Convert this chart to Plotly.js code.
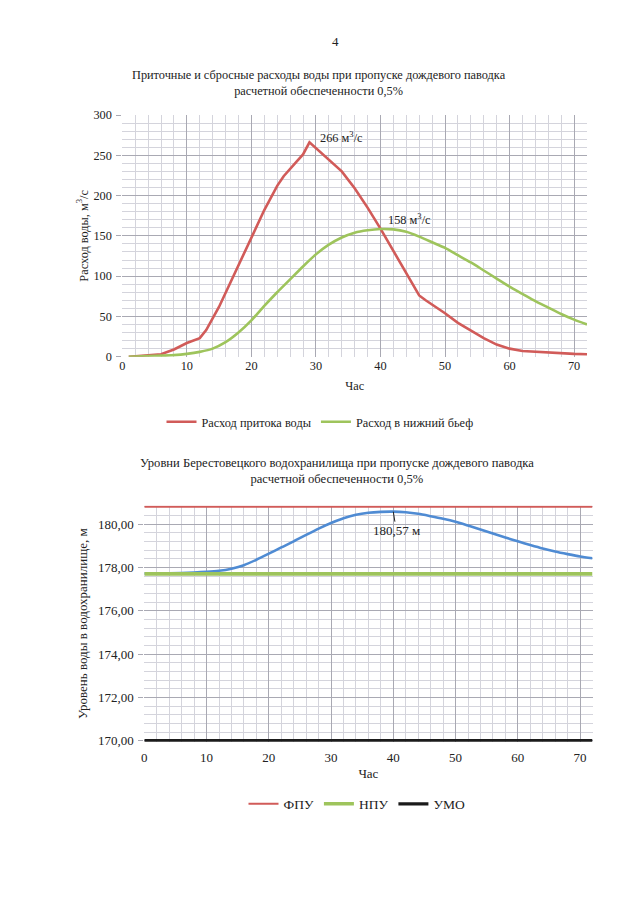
<!DOCTYPE html>
<html><head><meta charset="utf-8">
<script src="https://cdn.plot.ly/plotly-3.0.1.min.js"></script>
<style>html,body{margin:0;padding:0;background:#fff;} #chart{width:640px;height:920px;}</style>
</head><body><div id="chart"></div>
<script>
// ---- Chart 1: discharges (m3/s) ----
const hoursInflow = [1, 3, 5, 6, 8, 10, 12, 13, 15, 17, 20, 22, 24, 25, 27, 28, 29, 30, 32, 34, 36, 38, 40, 42, 44, 45, 46, 47, 48, 50, 52, 54, 56, 58, 60, 62, 64, 66, 68, 70, 72];
const inflow =      [0, 1, 2, 3, 9, 17, 23, 33, 62, 96, 149, 182, 212, 224, 242, 251, 266, 259, 245, 230, 209, 185, 159, 131, 103, 89, 76, 70, 65, 54, 42, 32, 23, 15, 10, 7, 6, 5, 4, 3.5, 3];
const hoursOutflow = [1, 5, 8, 10, 12, 14, 16, 18, 20, 22, 24, 26, 28, 30, 32, 34, 36, 38, 40, 42, 44, 46, 48, 50, 52, 54, 56, 58, 60, 62, 64, 66, 68, 70, 72];
const outflow =      [0, 1, 2, 3.5, 6, 10, 18, 30, 45, 63, 80, 96, 112, 127, 139, 148, 154, 157, 158.5, 158, 155, 149, 142, 135, 126, 117, 107, 97, 87, 78, 69, 61, 53, 46, 40];
const inflowName = "Расход притока воды";
const outflowName = "Расход в нижний бьеф";
const peakInflowLabel = "266 м<sup>3</sup>/с";
const peakOutflowLabel = "158 м<sup>3</sup>/с";

// ---- Chart 2: reservoir levels (m) ----
const hoursLevel = [0, 4, 8, 10, 12, 14, 16, 18, 20, 22, 24, 26, 28, 30, 32, 34, 36, 38, 40, 42, 44, 46, 48, 50, 52, 54, 56, 58, 60, 62, 64, 66, 68, 70, 72];
const level =      [177.72, 177.73, 177.76, 177.79, 177.84, 177.94, 178.1, 178.35, 178.63, 178.92, 179.2, 179.5, 179.79, 180.05, 180.27, 180.43, 180.52, 180.56, 180.57, 180.54, 180.47, 180.36, 180.24, 180.1, 179.93, 179.75, 179.56, 179.38, 179.2, 179.03, 178.87, 178.73, 178.61, 178.5, 178.42];
const hoursConst = [0, 72];
const fpuLevel = [180.8, 180.8];
const npuLevel = [177.7, 177.7];
const umoLevel = [170.0, 170.0];
const levelNames = ["ФПУ", "НПУ", "УМО"];
const peakLevelLabel = "180,57 м";

const title1 = "Приточные и сбросные расходы воды при пропуске дождевого паводка<br>расчетной обеспеченности 0,5%";
const title2 = "Уровни Берестовецкого водохранилища при пропуске дождевого паводка<br>расчетной обеспеченности 0,5%";
const yTitle1 = "Расход воды, м<sup>3</sup>/с";
const yTitle2 = "Уровень воды в водохранилище, м";
const xTitle = "Час";
const pageNumber = "4";

const FONT = "'Liberation Serif', 'Times New Roman', serif";
const TXT = "#222";
const RED = "#d15b59", GREEN = "#9ec45c", BLUE = "#4f8bd3", BLACK = "#1b1b1b";
const MAJ = "#a9a9b3", MIN = "#d4d4dc";
const F1 = 12.3, F2 = 13;

const traces = [
  {x: hoursInflow, y: inflow, name: inflowName, type: "scatter", mode: "lines",
   line: {color: RED, width: 2.6}, xaxis: "x", yaxis: "y", legend: "legend"},
  {x: hoursOutflow, y: outflow, name: outflowName, type: "scatter", mode: "lines",
   line: {color: GREEN, width: 2.6, shape: "spline", smoothing: 0.6}, xaxis: "x", yaxis: "y", legend: "legend"},
  {x: hoursLevel, y: level, name: "Уровень", type: "scatter", mode: "lines", showlegend: false,
   line: {color: BLUE, width: 2.6, shape: "spline", smoothing: 0.7}, xaxis: "x2", yaxis: "y2"},
  {x: hoursConst, y: fpuLevel, name: levelNames[0], type: "scatter", mode: "lines",
   line: {color: RED, width: 2}, xaxis: "x2", yaxis: "y2", legend: "legend2"},
  {x: hoursConst, y: npuLevel, name: levelNames[1], type: "scatter", mode: "lines",
   line: {color: GREEN, width: 3.6}, xaxis: "x2", yaxis: "y2", legend: "legend2"},
  {x: hoursConst, y: umoLevel, name: levelNames[2], type: "scatter", mode: "lines",
   line: {color: BLACK, width: 3.2}, xaxis: "x2", yaxis: "y2", legend: "legend2"}
];

const W = 640, H = 920;
const px = v => v / W, py = v => 1 - v / H;

function axisBase(size, extra) {
  return Object.assign({
    showgrid: true, gridcolor: MAJ, gridwidth: 1, zeroline: false, showline: false,
    tickfont: {family: FONT, size: size, color: TXT}, fixedrange: true
  }, extra);
}

const layout = {
  width: W, height: H, autosize: false,
  margin: {l: 0, r: 0, t: 0, b: 0},
  paper_bgcolor: "#fff", plot_bgcolor: "#fff",
  separators: ", ",
  font: {family: FONT, size: F1, color: TXT},
  xaxis: axisBase(F1, {domain: [px(122.3), px(587)], range: [0, 72], dtick: 10, tick0: 0,
    minor: {dtick: 2, showgrid: true, gridcolor: MIN}, anchor: "y",
    title: {text: xTitle, font: {family: FONT, size: F1, color: TXT}, standoff: 9}}),
  yaxis: axisBase(F1, {domain: [py(356.7), py(115)], range: [0, 300], dtick: 50, tick0: 0,
    ticks: "outside", ticklen: 5, tickcolor: MAJ, ticklabelstandoff: 2,
    minor: {dtick: 10, showgrid: true, gridcolor: MIN}, anchor: "x",
    title: {text: yTitle1, font: {family: FONT, size: F1, color: TXT}, standoff: 2}}),
  xaxis2: axisBase(F2, {domain: [px(144.3), px(592.5)], range: [0, 72], dtick: 10, tick0: 0,
    ticklabelstandoff: 6,
    minor: {dtick: 2, showgrid: true, gridcolor: MIN}, anchor: "y2",
    title: {text: xTitle, font: {family: FONT, size: F2, color: TXT}, standoff: 5}}),
  yaxis2: axisBase(F2, {domain: [py(741.8), py(505.6)], range: [169.95, 180.85], dtick: 2, tick0: 170,
    tickformat: ".2f", ticks: "outside", ticklen: 5, tickcolor: MAJ, ticklabelstandoff: 2,
    minor: {dtick: 0.4, tick0: 170, showgrid: true, gridcolor: MIN}, anchor: "x2",
    title: {text: yTitle2, font: {family: FONT, size: F2, color: TXT}, standoff: 7}}),
  legend: {orientation: "h", x: px(320), xanchor: "center", y: py(421.7), yanchor: "middle",
    font: {family: FONT, size: F1, color: TXT}, bgcolor: "rgba(0,0,0,0)", traceorder: "normal"},
  legend2: {orientation: "h", x: px(357), xanchor: "center", y: py(804), yanchor: "middle",
    font: {family: FONT, size: 13.5, color: TXT}, bgcolor: "rgba(0,0,0,0)", traceorder: "normal"},
  annotations: [
    {text: pageNumber, xref: "paper", yref: "paper", x: px(335), y: py(42), showarrow: false,
     xanchor: "center", yanchor: "middle", font: {family: FONT, size: 13, color: TXT}},
    {text: title1, xref: "paper", yref: "paper", x: px(319), y: py(83), showarrow: false,
     xanchor: "center", yanchor: "middle", font: {family: FONT, size: F1, color: TXT}},
    {text: title2, xref: "paper", yref: "paper", x: px(337), y: py(470.5), showarrow: false,
     xanchor: "center", yanchor: "middle", font: {family: FONT, size: 12.6, color: TXT}},
    {text: peakInflowLabel, xref: "x", yref: "y", x: 34, y: 273, showarrow: false,
     xanchor: "center", yanchor: "middle", font: {family: FONT, size: F1, color: TXT}},
    {text: peakOutflowLabel, xref: "x", yref: "y", x: 44.5, y: 171, showarrow: false,
     xanchor: "center", yanchor: "middle", font: {family: FONT, size: F1, color: TXT}},
    {text: peakLevelLabel, xref: "x2", yref: "y2", x: 40, y: 180.57, showarrow: true,
     arrowhead: 0, arrowwidth: 1, arrowcolor: "#222", ax: 3, ay: 19,
     font: {family: FONT, size: F2, color: TXT}}
  ]
};

Plotly.newPlot("chart", traces, layout, {displayModeBar: false, staticPlot: true});
</script>
</body></html>
